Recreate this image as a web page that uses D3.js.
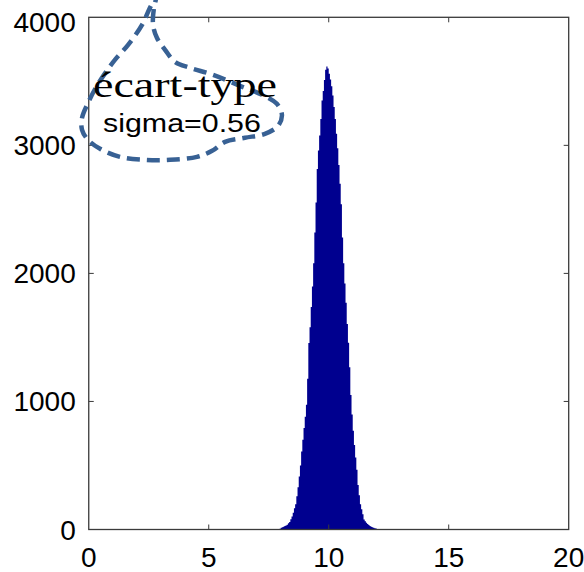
<!DOCTYPE html>
<html>
<head>
<meta charset="utf-8">
<script src="https://cdn.jsdelivr.net/npm/d3@7"></script>
<style>
  body { margin: 0; background: #fff; }
  svg { display: block; }
</style>
</head>
<body>
<div id="chart"></div>
<script>
// histogram counts, bins of 0.05 starting at 7.9
var binStart = 7.9;
var binWidth = 0.05;
var counts = [
    2, 6, 14, 18, 22, 27, 32, 38, 48, 59,
    80, 102, 131, 165, 198, 260, 330, 413, 500, 610,
    700, 792, 880, 975, 1178, 1456, 1580, 1737, 1897, 2080,
    2320, 2553, 2815, 2960, 3077, 3205, 3350, 3425, 3510, 3590,
    3616, 3600, 3560, 3515, 3462, 3390, 3300, 3205, 3090, 2978,
    2847, 2700, 2540, 2280, 2080, 1922, 1770, 1605, 1458, 1268,
    1050, 898, 772, 660, 562, 467, 348, 267, 197, 158,
    120, 79, 64, 52, 43, 35, 27, 21, 17, 13,
    10, 7, 3
];
var xTicks = [0, 5, 10, 15, 20];
var yTicks = [0, 1000, 2000, 3000, 4000];
var labelTitle = '\u00e9cart-type';
var labelSigma = 'sigma=0.56';

// callout outline, in data units (x, count)
var bubble = [
    [2.97, 4230], [2.55, 4074], [2.22, 3941], [1.64, 3785], [1.09, 3668],
    [0.72, 3574], [0.34, 3465], [-0.03, 3332], [-0.28, 3215], [-0.28, 3121],
    [-0.03, 3043], [0.47, 2973], [1.30, 2910], [2.34, 2887], [3.39, 2887],
    [4.51, 2910], [5.14, 2957], [5.68, 3027], [6.51, 3059], [7.34, 3090],
    [7.89, 3152], [8.05, 3238], [7.84, 3324], [7.22, 3395], [6.30, 3465],
    [5.18, 3551], [4.22, 3605], [3.59, 3652], [3.18, 3746], [2.84, 3840],
    [2.68, 3941], [2.72, 4074], [2.89, 4199]
];

var width = 584, height = 572;
var margin = {top: 17.3, left: 88.75, right: 15.3, bottom: 42.5};

var svg = d3.select('#chart').append('svg')
    .attr('width', width)
    .attr('height', height);

var x = d3.scaleLinear()
    .domain([0, 20])
    .range([margin.left, width - margin.right]);
var y = d3.scaleLinear()
    .domain([0, 4000])
    .range([height - margin.bottom, margin.top]);

// bars as one stepped patch, like matlab draws it
var bins = counts.map((c, i) => ({x0: binStart + i * binWidth, count: c}));
bins.push({x0: binStart + counts.length * binWidth, count: 0});

var area = d3.area()
    .curve(d3.curveStepAfter)
    .x(d => x(d.x0))
    .y0(y(0))
    .y1(d => y(d.count));

svg.append('path')
    .attr('fill', '#00008f')
    .attr('d', area(bins));

// box and ticks
var axisColor = '#3a3a3a';
var tickLen = 5;

svg.append('rect')
    .attr('x', x(0))
    .attr('y', y(4000))
    .attr('width', x(20) - x(0))
    .attr('height', y(0) - y(4000))
    .attr('fill', 'none')
    .attr('stroke', axisColor)
    .attr('stroke-width', 1.3);

var inner = xTicks.slice(1, -1);
svg.selectAll('.xtb').data(inner).enter().append('line')
    .attr('x1', d => x(d)).attr('x2', d => x(d))
    .attr('y1', y(0)).attr('y2', y(0) - tickLen)
    .attr('stroke', axisColor);
svg.selectAll('.xtt').data(inner).enter().append('line')
    .attr('x1', d => x(d)).attr('x2', d => x(d))
    .attr('y1', y(4000)).attr('y2', y(4000) + tickLen)
    .attr('stroke', axisColor);

var innerY = yTicks.slice(1, -1);
svg.selectAll('.ytl').data(innerY).enter().append('line')
    .attr('y1', d => y(d)).attr('y2', d => y(d))
    .attr('x1', x(0)).attr('x2', x(0) + tickLen)
    .attr('stroke', axisColor);
svg.selectAll('.ytr').data(innerY).enter().append('line')
    .attr('y1', d => y(d)).attr('y2', d => y(d))
    .attr('x1', x(20)).attr('x2', x(20) - tickLen)
    .attr('stroke', axisColor);

var tickFont = "'Liberation Sans', Arial, sans-serif";

svg.selectAll('.xl').data(xTicks).enter().append('text')
    .attr('x', d => x(d))
    .attr('y', y(0) + 37)
    .attr('text-anchor', 'middle')
    .style('font-family', tickFont)
    .style('font-size', '28px')
    .text(d => d);

svg.selectAll('.yl').data(yTicks).enter().append('text')
    .attr('x', x(0) - 13)
    .attr('y', d => y(d) + 10 + (d === 4000 ? 5 : 0))
    .attr('text-anchor', 'end')
    .style('font-family', tickFont)
    .style('font-size', '28px')
    .text(d => d);

// callout
svg.append('path')
    .attr('fill', 'none')
    .attr('stroke', '#386194')
    .attr('stroke-width', 4.5)
    .attr('stroke-dasharray', '13,7')
    .attr('d', d3.line().curve(d3.curveCatmullRom)
        .x(d => x(d[0])).y(d => y(d[1]))(bubble));

// stretch a label horizontally to a given width
function stretched(txt, family, size, left, base, w) {
    var t = svg.append('text')
        .style('font-family', family)
        .style('font-size', size + 'px')
        .text(txt);
    var natural = t.node().getComputedTextLength();
    t.attr('transform', 'translate(' + left + ',' + base + ') scale(' + (w / natural) + ',1)');
    return t;
}

stretched(labelTitle, "'Liberation Serif', 'Times New Roman', serif", 35, 93, 97, 184);
stretched(labelSigma, tickFont, 26, 103, 131.5, 158);
</script>
</body>
</html>
